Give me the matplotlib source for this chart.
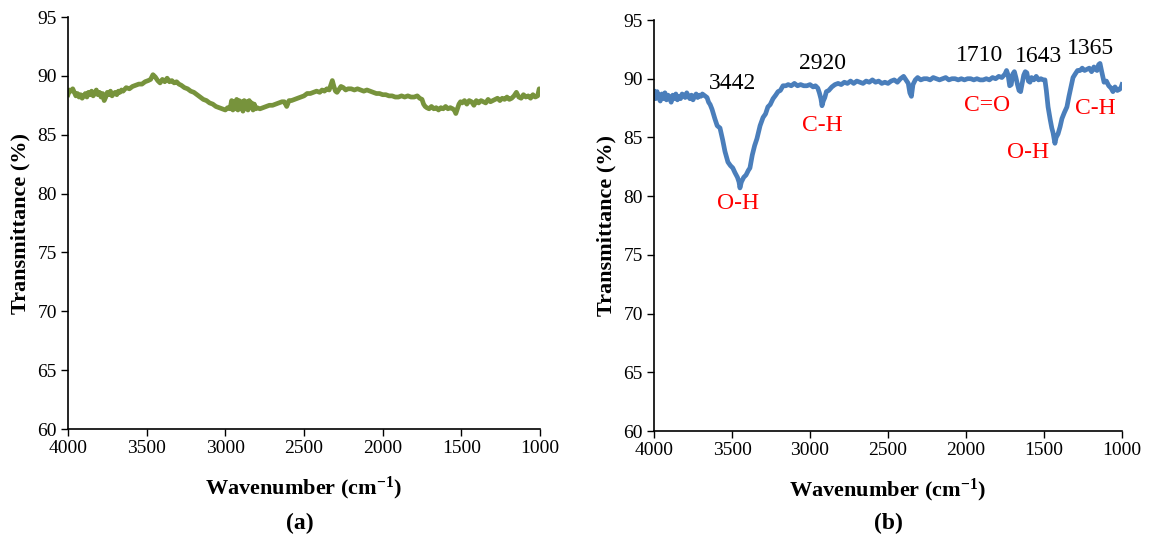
import matplotlib
matplotlib.use("Agg")
import matplotlib.pyplot as plt

# ---------------- data: panel (a) ----------------
wn_a = [4000, 3990, 3980, 3970, 3960, 3950, 3940, 3930, 3920, 3910, 3900, 3890, 3880, 3870,
        3860, 3850, 3840, 3830, 3820, 3810, 3800, 3790, 3780, 3770, 3760, 3750, 3740, 3730,
        3720, 3710, 3700, 3690, 3680, 3670, 3660, 3650, 3630, 3610, 3590, 3570, 3550, 3530,
        3510, 3490, 3475, 3460, 3445, 3430, 3415, 3400, 3385, 3370, 3355, 3340, 3325, 3310,
        3295, 3280, 3260, 3240, 3220, 3200, 3180, 3160, 3140, 3120, 3100, 3080, 3060, 3040,
        3020, 3000, 2985, 2970, 2960, 2952, 2944, 2936, 2928, 2920, 2912, 2904, 2896, 2888,
        2880, 2872, 2864, 2856, 2848, 2840, 2832, 2824, 2816, 2808, 2800, 2780, 2760, 2740,
        2720, 2700, 2680, 2660, 2640, 2625, 2610, 2595, 2580, 2560, 2540, 2520, 2500, 2480,
        2460, 2440, 2420, 2400, 2385, 2370, 2355, 2340, 2330, 2320, 2310, 2300, 2290, 2280,
        2265, 2250, 2235, 2220, 2200, 2180, 2160, 2140, 2120, 2100, 2080, 2060, 2040, 2020,
        2000, 1980, 1960, 1940, 1920, 1900, 1880, 1860, 1840, 1820, 1800, 1780, 1765, 1750,
        1740, 1730, 1720, 1705, 1690, 1675, 1660, 1645, 1630, 1615, 1600, 1585, 1570, 1555,
        1545, 1535, 1525, 1515, 1505, 1495, 1480, 1465, 1450, 1435, 1420, 1405, 1390, 1375,
        1360, 1345, 1330, 1315, 1300, 1285, 1270, 1255, 1240, 1225, 1210, 1195, 1180, 1165,
        1150, 1135, 1120, 1105, 1090, 1075, 1060, 1045, 1030, 1015, 1005, 1000]
t_a = [88.4, 88.8, 88.7, 88.9, 88.6, 88.3, 88.5, 88.2, 88.4, 88.1, 88.3, 88.5, 88.2, 88.6,
       88.4, 88.7, 88.3, 88.5, 88.8, 88.4, 88.6, 88.2, 88.5, 87.9, 88.2, 88.6, 88.4, 88.7,
       88.3, 88.5, 88.6, 88.4, 88.7, 88.6, 88.8, 88.7, 89.0, 88.9, 89.1, 89.2, 89.3, 89.3,
       89.5, 89.6, 89.7, 90.1, 89.9, 89.6, 89.4, 89.7, 89.5, 89.8, 89.5, 89.6, 89.4, 89.5,
       89.3, 89.2, 89.0, 88.9, 88.7, 88.6, 88.4, 88.2, 88.0, 87.9, 87.7, 87.6, 87.4, 87.3,
       87.2, 87.1, 87.3, 87.2, 87.9, 87.1, 87.8, 87.2, 88.0, 87.1, 87.9, 87.2, 87.8, 87.0,
       87.9, 87.2, 87.8, 87.1, 87.9, 87.3, 87.7, 87.1, 87.6, 87.2, 87.3, 87.2, 87.3, 87.4,
       87.5, 87.5, 87.6, 87.7, 87.8, 87.8, 87.4, 87.9, 87.9, 88.0, 88.1, 88.2, 88.3, 88.5,
       88.5, 88.6, 88.7, 88.6, 88.8, 88.7, 88.9, 88.8, 89.2, 89.6, 89.1, 88.7, 88.6, 88.8,
       89.1, 89.0, 88.8, 88.9, 88.9, 88.8, 88.9, 88.8, 88.7, 88.8, 88.7, 88.6, 88.5, 88.5,
       88.4, 88.4, 88.3, 88.3, 88.2, 88.2, 88.3, 88.2, 88.3, 88.2, 88.2, 88.3, 88.1, 88.0,
       87.6, 87.4, 87.3, 87.2, 87.4, 87.2, 87.3, 87.1, 87.3, 87.2, 87.4, 87.2, 87.3, 87.2,
       87.1, 86.8, 87.2, 87.6, 87.8, 87.7, 87.9, 87.6, 87.9, 87.8, 87.5, 87.9, 87.7, 87.9,
       87.8, 87.7, 88.0, 87.8, 87.9, 88.0, 88.1, 87.9, 88.1, 88.0, 88.2, 88.0, 88.1, 88.3,
       88.6, 88.2, 88.1, 88.4, 88.2, 88.3, 88.1, 88.4, 88.2, 88.3, 88.9, 88.6]

# ---------------- data: panel (b) ----------------
wn_b = [4000, 3990, 3980, 3970, 3960, 3950, 3940, 3930, 3920, 3910, 3900, 3890, 3880, 3870,
        3860, 3850, 3840, 3830, 3820, 3810, 3800, 3790, 3780, 3770, 3760, 3750, 3740, 3730,
        3720, 3710, 3700, 3690, 3680, 3670, 3660, 3650, 3640, 3628, 3610, 3595, 3577, 3560,
        3545, 3526, 3510, 3495, 3481, 3465, 3455, 3449, 3440, 3425, 3410, 3395, 3385, 3370,
        3355, 3340, 3320, 3301, 3285, 3270, 3255, 3237, 3220, 3205, 3190, 3173, 3155, 3140,
        3120, 3100, 3080, 3060, 3040, 3020, 3000, 2980, 2965, 2950, 2940, 2930, 2923, 2915,
        2905, 2895, 2880, 2860, 2840, 2820, 2800, 2780, 2760, 2740, 2720, 2700, 2680, 2660,
        2640, 2620, 2600, 2580, 2560, 2540, 2520, 2500, 2480, 2460, 2440, 2420, 2400, 2385,
        2370, 2360, 2350, 2340, 2325, 2310, 2290, 2270, 2250, 2230, 2210, 2190, 2170, 2150,
        2130, 2110, 2090, 2070, 2050, 2030, 2010, 1990, 1970, 1950, 1930, 1910, 1890, 1870,
        1850, 1830, 1810, 1790, 1770, 1750, 1740, 1730, 1720, 1710, 1700, 1690, 1680, 1670,
        1660, 1650, 1640, 1630, 1620, 1610, 1600, 1590, 1580, 1565, 1550, 1535, 1520, 1505,
        1494, 1485, 1474, 1460, 1450, 1442, 1435, 1430, 1422, 1410, 1397, 1385, 1370, 1353,
        1340, 1325, 1314, 1300, 1285, 1269, 1255, 1240, 1225, 1210, 1195, 1180, 1170, 1160,
        1150, 1141, 1130, 1115, 1100, 1085, 1070, 1058, 1045, 1030, 1015, 1005, 1000]
t_b = [88.9, 88.3, 88.9, 88.4, 88.1, 88.7, 88.3, 88.8, 88.2, 88.6, 88.4, 88.0, 88.6, 88.3,
       88.7, 88.2, 88.5, 88.3, 88.7, 88.6, 88.4, 88.8, 88.5, 88.3, 88.6, 88.2, 88.5, 88.7,
       88.4, 88.6, 88.5, 88.7, 88.6, 88.5, 88.4, 88.0, 87.8, 87.4, 86.6, 86.0, 85.8, 84.8,
       83.8, 82.9, 82.6, 82.4, 82.0, 81.6, 81.2, 80.7, 81.2, 81.6, 81.8, 82.2, 82.4, 83.5,
       84.3, 84.9, 86.0, 86.7, 87.0, 87.6, 87.8, 88.3, 88.6, 88.9, 89.0, 89.4, 89.4, 89.5,
       89.4, 89.6, 89.4, 89.5, 89.4, 89.4, 89.5, 89.3, 89.4, 89.2, 88.8, 88.3, 87.7, 88.1,
       88.4, 88.9, 89.0, 89.3, 89.5, 89.6, 89.5, 89.7, 89.6, 89.8, 89.6, 89.8, 89.7, 89.6,
       89.8, 89.7, 89.9, 89.7, 89.8, 89.6, 89.7, 89.6, 89.8, 89.9, 89.7, 90.0, 90.2, 89.9,
       89.6, 88.8, 88.5, 89.5, 89.9, 90.1, 89.9, 90.0, 90.0, 89.9, 90.1, 90.0, 89.9, 90.0,
       90.1, 89.9, 90.0, 90.0, 89.9, 90.0, 89.9, 90.0, 90.0, 89.9, 90.0, 89.9, 89.9, 90.0,
       89.9, 90.1, 90.0, 90.2, 90.1, 90.4, 90.7, 90.3, 89.4, 89.5, 90.4, 90.6, 90.1, 89.5,
       89.0, 88.9, 89.6, 90.3, 90.6, 90.5, 89.8, 89.7, 90.1, 89.9, 90.2, 89.9, 90.0, 89.9,
       89.9, 89.0, 87.6, 86.5, 85.8, 85.4, 84.9, 84.5, 85.0, 85.3, 85.9, 86.6, 87.1, 87.6,
       88.5, 89.4, 90.1, 90.4, 90.7, 90.7, 90.9, 90.7, 90.8, 90.9, 90.6, 91.0, 90.8, 90.7,
       91.2, 91.3, 90.6, 89.7, 89.8, 89.4, 89.2, 88.9, 89.3, 89.0, 89.1, 89.3, 89.5]

ticks_x = [4000, 3500, 3000, 2500, 2000, 1500, 1000]
ticks_y = [60, 65, 70, 75, 80, 85, 90, 95]

peak_labels = ["3442", "2920", "1710", "1643", "1365"]
peak_pos = [(3494, 89.6), (2923, 91.3), (1910, 92.0), (1538, 91.85), (1205, 92.6)]
group_labels = ["O-H", "C-H", "C=O", "O-H", "C-H"]
group_pos = [(3462, 79.4), (2923, 86.05), (1866, 87.75), (1603, 83.7), (1173, 87.5)]

plt.rcParams['font.family'] = ['Liberation Serif', 'DejaVu Serif']
plt.rcParams['mathtext.fontset'] = 'custom'
plt.rcParams['mathtext.rm'] = 'Liberation Serif'
plt.rcParams['mathtext.bf'] = 'Liberation Serif:bold'
plt.rcParams['mathtext.default'] = 'bf'

fig = plt.figure(figsize=(11.52, 5.41), dpi=100)
ax1 = fig.add_axes([68/1152, 1-429/541, 472/1152, 412/541])
ax2 = fig.add_axes([654/1152, 1-431/541, 468/1152, 411/541])

ax1.plot(wn_a, t_a, color='#77933C', lw=3.4, solid_joinstyle='round')
ax2.plot(wn_b, t_b, color='#4A7EBB', lw=3.4, solid_joinstyle='round')

for ax in (ax1, ax2):
    ax.set_xlim(4000, 1000)
    ax.set_ylim(60, 95)
    ax.set_xticks(ticks_x)
    ax.set_yticks(ticks_y)
    ax.tick_params(labelsize=14, direction='out', length=5, width=1, colors='black', pad=3)
    for s in ('top', 'right'):
        ax.spines[s].set_visible(False)
    for s in ('left', 'bottom'):
        ax.spines[s].set_linewidth(1.2)
    ax.set_xlabel('Wavenumber (cm$^{-1}$)', fontsize=16, fontweight='bold', labelpad=13)
    ax.set_ylabel('Transmittance (%)', fontsize=16, fontweight='bold', labelpad=5)

for lab, (x, y) in zip(peak_labels, peak_pos):
    ax2.text(x, y, lab, fontsize=17, ha='center', va='center', color='black')
for lab, (x, y) in zip(group_labels, group_pos):
    ax2.text(x, y, lab, fontsize=17, ha='center', va='center', color='red')

fig.text(300/1152, 1-523/541, '(a)', fontsize=17, fontweight='bold', ha='center', va='center')
fig.text(888/1152, 1-523/541, '(b)', fontsize=17, fontweight='bold', ha='center', va='center')

fig.savefig('out.png', dpi=100)
